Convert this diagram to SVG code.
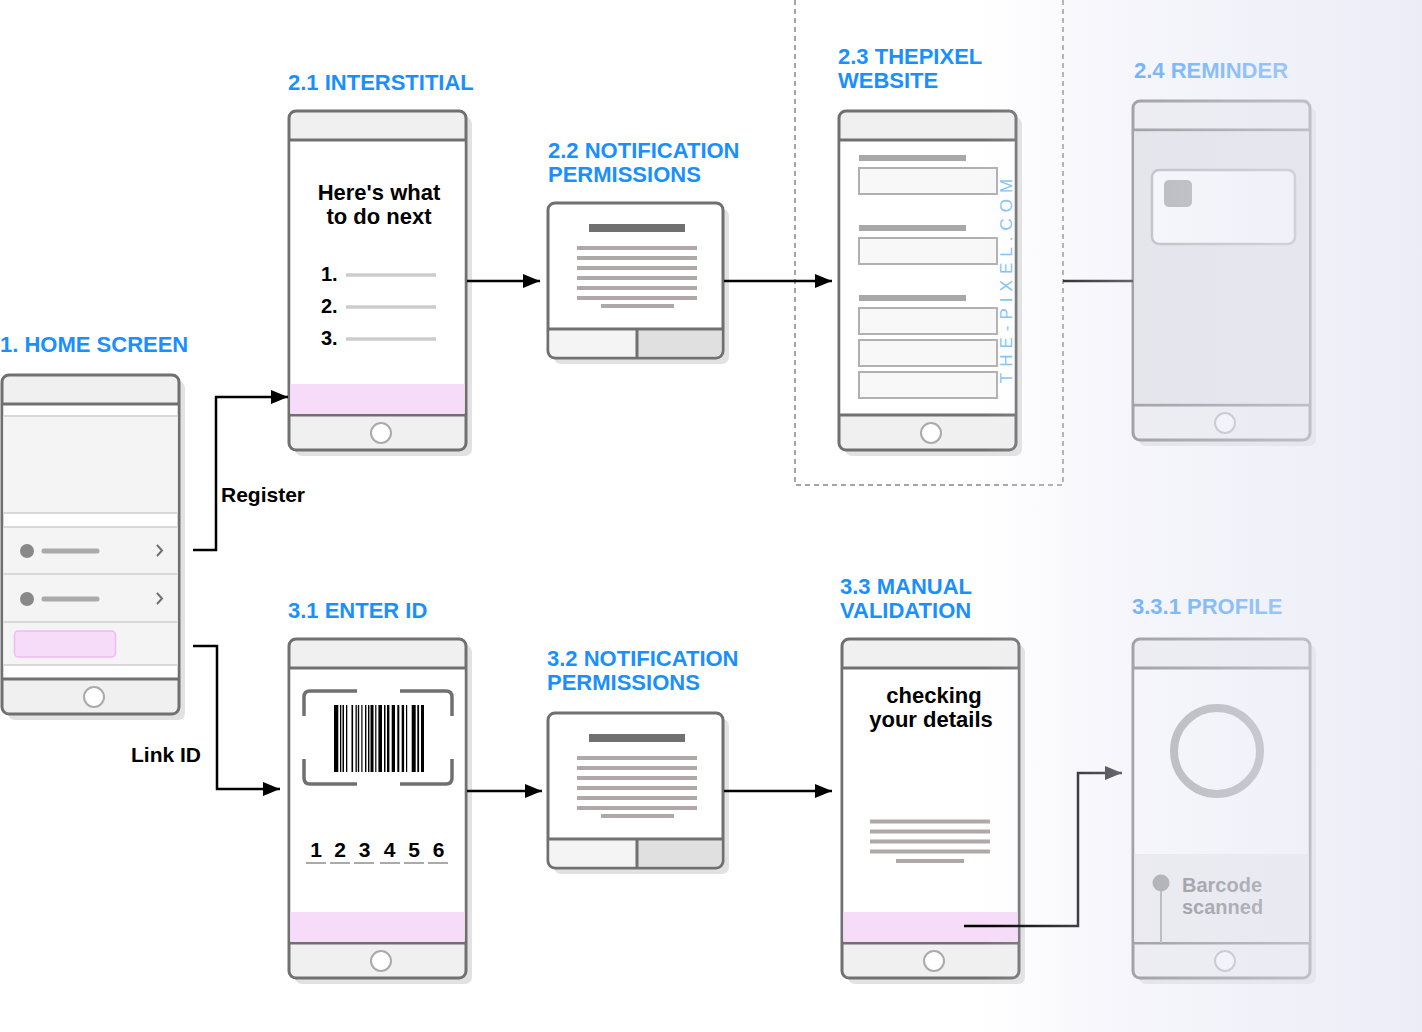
<svg xmlns="http://www.w3.org/2000/svg" width="1422" height="1032" viewBox="0 0 1422 1032">
<defs>
<style>
.title{font-family:"Liberation Sans",Arial,sans-serif;font-weight:bold;font-size:22px;fill:#1a8fff}
.lbl{font-family:"Liberation Sans",Arial,sans-serif;font-weight:bold;font-size:21px;fill:#000}
.body{font-family:"Liberation Sans",Arial,sans-serif;font-weight:bold;font-size:22px;fill:#000;text-anchor:middle}
.num{font-family:"Liberation Sans",Arial,sans-serif;font-weight:bold;font-size:20px;fill:#000}
.conn{fill:none;stroke:#000;stroke-width:2.5}
.ph{stroke:#707070;stroke-width:3}
.gl{stroke:#b0a8a8;stroke-width:4}
.fld{fill:#f8f8f8;stroke:#b0b0b0;stroke-width:2}
.hb{fill:#a8a8a8}
.row{stroke:#d8d8d8;stroke-width:2}
</style>
<marker id="arr" markerUnits="userSpaceOnUse" markerWidth="18" markerHeight="14" refX="17" refY="7" orient="auto">
<path d="M0,0 L17,7 L0,14 z" fill="#000"/>
</marker>
<marker id="arrg" markerUnits="userSpaceOnUse" markerWidth="18" markerHeight="14" refX="17" refY="7" orient="auto">
<path d="M0,0 L17,7 L0,14 z" fill="#111"/>
</marker>
<g id="phone">
<rect x="6" y="6" width="177" height="339" rx="7" fill="#e2e2e2"/>
<rect x="0" y="0" width="177" height="339" rx="7" fill="#f0f0f0" class="ph"/>
<rect x="1.5" y="29" width="174" height="275" fill="#fff"/>
<line x1="0" y1="29" x2="177" y2="29" class="ph"/>
<line x1="0" y1="304" x2="177" y2="304" class="ph"/>
<circle cx="92" cy="322" r="10" fill="#fff" stroke="#aaa" stroke-width="2"/>
</g>
<g id="notif">
<rect x="6" y="6" width="175" height="155" rx="7" fill="#e2e2e2"/>
<rect x="0" y="0" width="175" height="155" rx="7" fill="#fff" class="ph"/>
<path d="M1.5,126 H89 V153.5 H8 Q1.5,153.5 1.5,147 z" fill="#f4f4f4"/>
<path d="M89,126 H173.5 V147 Q173.5,153.5 167,153.5 H89 z" fill="#e0e0e0"/>
<line x1="0" y1="126" x2="175" y2="126" class="ph"/>
<line x1="89" y1="126" x2="89" y2="155" class="ph"/>
<rect x="41" y="21" width="96" height="8" fill="#707070"/>
<line x1="29" y1="45" x2="149" y2="45" class="gl"/>
<line x1="29" y1="55" x2="149" y2="55" class="gl"/>
<line x1="29" y1="65" x2="149" y2="65" class="gl"/>
<line x1="29" y1="75" x2="149" y2="75" class="gl"/>
<line x1="29" y1="85" x2="149" y2="85" class="gl"/>
<line x1="29" y1="95" x2="149" y2="95" class="gl"/>
<line x1="53" y1="103" x2="126" y2="103" class="gl"/>
</g>
<linearGradient id="fade" x1="0" y1="0" x2="1422" y2="0" gradientUnits="userSpaceOnUse">
<stop offset="0.69" stop-color="#e8e8f6" stop-opacity="0"/>
<stop offset="0.795" stop-color="#e8e8f6" stop-opacity="0.42"/>
<stop offset="1" stop-color="#e8e8f6" stop-opacity="0.8"/>
</linearGradient>
</defs>
<rect width="1422" height="1032" fill="#fff"/>

<!-- dashed group box -->
<path d="M795,0 V485 H1063 V0" fill="none" stroke="#888" stroke-width="1.5" stroke-dasharray="5,4"/>

<!-- 1 home -->
<g id="home">
<text class="title" x="0" y="352">1. HOME SCREEN</text>
<g transform="translate(2,375)">
<use href="#phone"/>
<rect x="1.5" y="41" width="174" height="97" fill="#f4f4f4"/>
<rect x="1.5" y="152" width="174" height="138" fill="#f4f4f4"/>
<line x1="1.5" y1="41" x2="175.5" y2="41" class="row"/>
<line x1="1.5" y1="138" x2="175.5" y2="138" class="row"/>
<line x1="1.5" y1="152" x2="175.5" y2="152" class="row"/>
<line x1="1.5" y1="199" x2="175.5" y2="199" class="row"/>
<line x1="1.5" y1="247" x2="175.5" y2="247" class="row"/>
<line x1="1.5" y1="290" x2="175.5" y2="290" class="row"/>
<circle cx="25" cy="176" r="7" fill="#888"/>
<line x1="42" y1="176" x2="95" y2="176" stroke="#aaa" stroke-width="5" stroke-linecap="round"/>
<polyline points="155,170 160,175.5 155,181" fill="none" stroke="#707070" stroke-width="2"/>
<circle cx="25" cy="224" r="7" fill="#888"/>
<line x1="42" y1="224" x2="95" y2="224" stroke="#aaa" stroke-width="5" stroke-linecap="round"/>
<polyline points="155,218 160,223.5 155,229" fill="none" stroke="#707070" stroke-width="2"/>
<rect x="12.5" y="256" width="101" height="26" rx="4" fill="#f6dcf8" stroke="#f2b8f6" stroke-width="1.5"/>
</g>
</g>

<!-- 2.1 interstitial -->
<g id="interstitial">
<text class="title" x="288" y="90">2.1 INTERSTITIAL</text>
<g transform="translate(289,111)">
<use href="#phone"/>
<rect x="1.5" y="273" width="174" height="30" fill="#f6dcf8"/>
<text class="body" x="90" y="89">Here's what</text>
<text class="body" x="90" y="113">to do next</text>
<text class="num" x="32" y="170">1.</text>
<text class="num" x="32" y="202">2.</text>
<text class="num" x="32" y="234">3.</text>
<line x1="57" y1="164" x2="147" y2="164" stroke="#ccc" stroke-width="3.5"/>
<line x1="57" y1="196" x2="147" y2="196" stroke="#ccc" stroke-width="3.5"/>
<line x1="57" y1="228" x2="147" y2="228" stroke="#ccc" stroke-width="3.5"/>
</g>
</g>

<!-- 2.2 notification -->
<g id="notif22">
<text class="title" x="548" y="158">2.2 NOTIFICATION</text>
<text class="title" x="548" y="182">PERMISSIONS</text>
<use href="#notif" transform="translate(548,203)"/>
</g>

<!-- 2.3 website -->
<g id="website">
<text class="title" x="838" y="64">2.3 THEPIXEL</text>
<text class="title" x="838" y="88">WEBSITE</text>
<g transform="translate(839,111)">
<use href="#phone"/>
<rect class="hb" x="20" y="44" width="107" height="6"/>
<rect class="fld" x="20" y="57" width="138" height="26"/>
<rect class="hb" x="20" y="114" width="107" height="6"/>
<rect class="fld" x="20" y="127" width="138" height="26"/>
<rect class="hb" x="20" y="184" width="107" height="6"/>
<rect class="fld" x="20" y="197" width="138" height="26"/>
<rect class="fld" x="20" y="229" width="138" height="26"/>
<rect class="fld" x="20" y="261" width="138" height="26"/>
</g>
<text x="1006" y="284" transform="rotate(-90 1006 278)" font-family="'Liberation Sans',Arial,sans-serif" font-size="17" letter-spacing="6" fill="#7ec3f5" text-anchor="middle">THE-PIXEL.COM</text>
</g>

<!-- 2.4 reminder -->
<g id="reminder">
<text class="title" x="1134" y="78">2.4 REMINDER</text>
<g transform="translate(1133,101)">
<use href="#phone"/>
<rect x="1.5" y="30.5" width="174" height="272" fill="#e2e2e4"/>
<rect x="19" y="69" width="143" height="74" rx="7" fill="#fff" stroke="#a8a8a8" stroke-width="2.5"/>
<rect x="31" y="79" width="28" height="27" rx="5" fill="#999"/>
</g>
</g>

<!-- 3.1 enter ID -->
<g id="enterid">
<text class="title" x="288" y="618">3.1 ENTER ID</text>
<g transform="translate(289,639)">
<use href="#phone"/>
<rect x="1.5" y="273" width="174" height="30" fill="#f6dcf8"/>
</g>
<g fill="none" stroke="#707070" stroke-width="3.5">
<path d="M304,716 V697 Q304,691 310,691 H357"/>
<path d="M400,691 H446 Q452,691 452,697 V716"/>
<path d="M304,759 V778 Q304,784 310,784 H357"/>
<path d="M400,784 H446 Q452,784 452,778 V759"/>
</g>
<g fill="#000">
<rect x="334" y="705" width="4.3" height="67"/>
<rect x="340" y="705" width="1.3" height="67"/>
<rect x="342.5" y="705" width="1.5" height="67"/>
<rect x="346" y="705" width="1.3" height="67"/>
<rect x="351.5" y="705" width="1.6" height="67"/>
<rect x="355.5" y="705" width="1.3" height="67"/>
<rect x="357.8" y="705" width="1.4" height="67"/>
<rect x="361.3" y="705" width="1.2" height="67"/>
<rect x="365" y="705" width="1.4" height="67"/>
<rect x="368" y="705" width="1.4" height="67"/>
<rect x="370.5" y="705" width="3" height="67"/>
<rect x="375.2" y="705" width="1.2" height="67"/>
<rect x="378.4" y="705" width="3.6" height="67"/>
<rect x="384" y="705" width="1.5" height="67"/>
<rect x="387" y="705" width="2.4" height="67"/>
<rect x="391.7" y="705" width="3.3" height="67"/>
<rect x="397.3" y="705" width="2" height="67"/>
<rect x="401.7" y="705" width="2.4" height="67"/>
<rect x="406" y="705" width="1.2" height="67"/>
<rect x="411.7" y="705" width="4" height="67"/>
<rect x="417.3" y="705" width="1.8" height="67"/>
<rect x="421" y="705" width="3" height="67"/>
</g>
<g class="body">
<text x="316" y="857" style="font-size:21px">1</text>
<text x="340" y="857" style="font-size:21px">2</text>
<text x="364.5" y="857" style="font-size:21px">3</text>
<text x="389.5" y="857" style="font-size:21px">4</text>
<text x="414" y="857" style="font-size:21px">5</text>
<text x="438.5" y="857" style="font-size:21px">6</text>
</g>
<g stroke="#aaa" stroke-width="2">
<line x1="306" y1="863" x2="326" y2="863"/>
<line x1="330" y1="863" x2="350" y2="863"/>
<line x1="354" y1="863" x2="374" y2="863"/>
<line x1="380" y1="863" x2="400" y2="863"/>
<line x1="404" y1="863" x2="424" y2="863"/>
<line x1="428" y1="863" x2="448" y2="863"/>
</g>
</g>

<!-- 3.2 notification -->
<g id="notif32">
<text class="title" x="547" y="666">3.2 NOTIFICATION</text>
<text class="title" x="547" y="690">PERMISSIONS</text>
<use href="#notif" transform="translate(548,713)"/>
</g>

<!-- 3.3 manual validation -->
<g id="manual">
<text class="title" x="840" y="594">3.3 MANUAL</text>
<text class="title" x="840" y="618">VALIDATION</text>
<g transform="translate(842,639)">
<use href="#phone"/>
<rect x="1.5" y="273" width="174" height="30" fill="#f6dcf8"/>
<text class="body" x="92" y="64">checking</text>
<text class="body" x="89" y="88">your details</text>
<line x1="28" y1="182.5" x2="148" y2="182.5" class="gl"/>
<line x1="28" y1="192.5" x2="148" y2="192.5" class="gl"/>
<line x1="28" y1="202.5" x2="148" y2="202.5" class="gl"/>
<line x1="28" y1="212.5" x2="148" y2="212.5" class="gl"/>
<line x1="54" y1="222" x2="122" y2="222" class="gl"/>
</g>
</g>

<!-- 3.3.1 profile -->
<g id="profile">
<text class="title" x="1132" y="614">3.3.1 PROFILE</text>
<g transform="translate(1133,639)">
<use href="#phone"/>
<rect x="1.5" y="215" width="174" height="88" fill="#ececec"/>
<circle cx="84" cy="112" r="43" fill="none" stroke="#999" stroke-width="8"/>
<line x1="28" y1="244" x2="28" y2="304" stroke="#999" stroke-width="2"/>
<circle cx="28" cy="244" r="8.5" fill="#888"/>
<text x="49" y="253" font-family="'Liberation Sans',Arial,sans-serif" font-weight="bold" font-size="20" fill="#666">Barcode</text>
<text x="49" y="275" font-family="'Liberation Sans',Arial,sans-serif" font-weight="bold" font-size="20" fill="#666">scanned</text>
</g>
</g>

<g id="connectors">
<polyline class="conn" points="193,550 216,550 216,397 288,397" marker-end="url(#arr)"/>
<polyline class="conn" points="193,646 217,646 217,789 280,789" marker-end="url(#arr)"/>
<line class="conn" x1="467" y1="281" x2="540" y2="281" marker-end="url(#arr)"/>
<line class="conn" x1="724" y1="281" x2="832" y2="281" marker-end="url(#arr)"/>
<line class="conn" x1="467" y1="791" x2="542" y2="791" marker-end="url(#arr)"/>
<line class="conn" x1="724" y1="791" x2="832" y2="791" marker-end="url(#arr)"/>
<line x1="1063" y1="281" x2="1133" y2="281" stroke="#000" stroke-width="2.5"/>
<polyline points="964,926 1078,926 1078,773 1122,773" fill="none" stroke="#000" stroke-width="2.5" marker-end="url(#arrg)"/>
<text class="lbl" x="221" y="502">Register</text>
<text class="lbl" x="131" y="762">Link ID</text>
</g>

<!-- right fade -->
<rect x="0" y="0" width="1422" height="1032" fill="url(#fade)"/>
</svg>
